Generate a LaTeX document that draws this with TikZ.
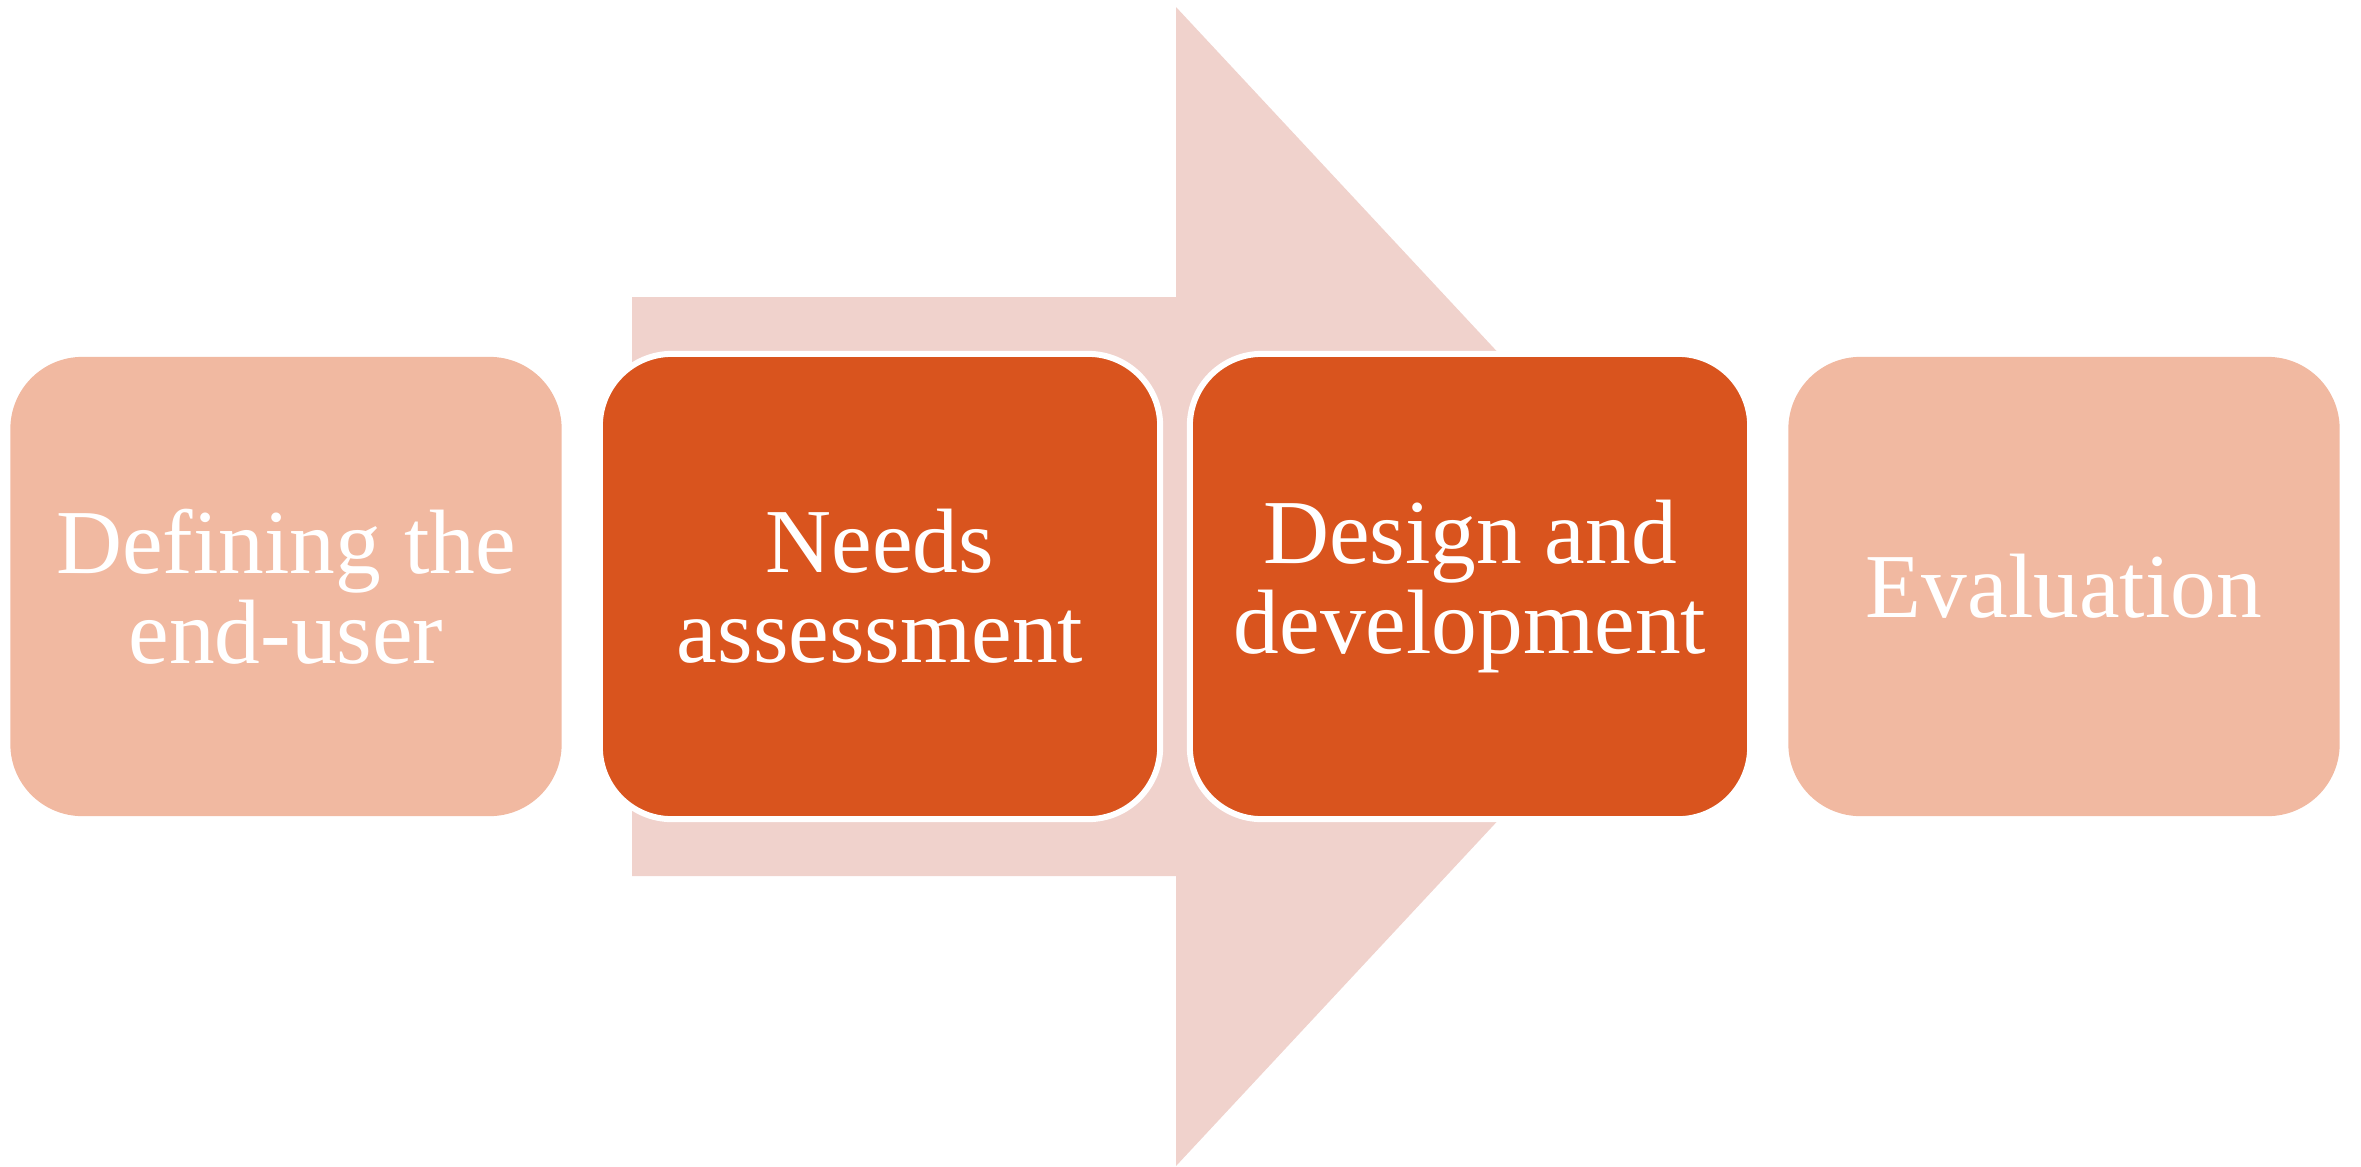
\documentclass[tikz,border=0pt]{standalone}
\usepackage{fontspec}
\setmainfont{Liberation Serif}
\definecolor{paleorange}{HTML}{F1B9A1}
\definecolor{deeporange}{HTML}{D9541E}
\definecolor{arrowpink}{HTML}{F0D2CC}

\begin{document}
\begin{tikzpicture}[x=0.01cm, y=-0.01cm,
    stage/.style={rectangle, rounded corners=0.72cm, inner sep=0pt,
        text=white, align=center, font=\fontsize{26}{25.5}\selectfont},
    pale/.style={stage, fill=paleorange, minimum width=5.51cm, minimum height=4.59cm},
    active/.style={stage, fill=deeporange, draw=white, line width=0.06cm,
        minimum width=5.6cm, minimum height=4.65cm}]
    \useasboundingbox (0,0) rectangle (2361,1166);
    % big arrow behind the stages
    \fill[arrowpink] (632,297) -- (1176,297) -- (1176,7) -- (1716,586.5)
        -- (1176,1166) -- (1176,876) -- (632,876) -- cycle;
    \node[pale] (define) at (286,586.5) {Defining the\\end-user};
    \node[active] (needs) at (880,586.5) {Needs\\assessment};
    \node[active] (design) at (1470,586.5) {Design and\\development};
    \node[pale] (evaluate) at (2064,586.5) {Evaluation};
\end{tikzpicture}
\end{document}
